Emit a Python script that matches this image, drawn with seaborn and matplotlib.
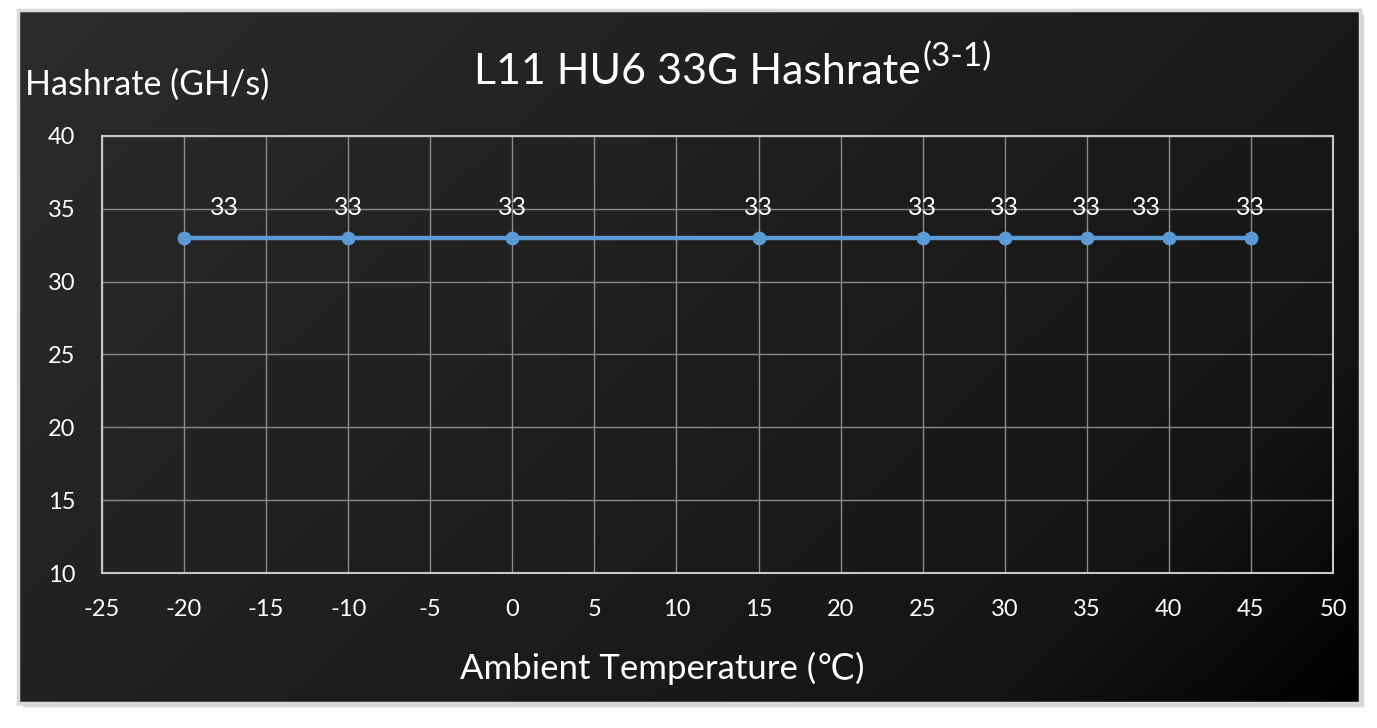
import numpy as np
import pandas as pd
import matplotlib
matplotlib.use("Agg")
import matplotlib.pyplot as plt
from matplotlib.patches import Rectangle
import seaborn as sns

# data
temps = [-20, -10, 0, 15, 25, 30, 35, 40, 45]
hashrate = [33, 33, 33, 33, 33, 33, 33, 33, 33]
label_dx = [40, 0, 0, 0, 0, 0, 0, -22, 0]   # pixel nudges of the "33" labels
x_ticks = list(range(-25, 55, 5))
y_ticks = list(range(10, 45, 5))

df = pd.DataFrame({"temp": temps, "rate": hashrate})

sns.set_style("dark")
plt.rcParams["font.family"] = ["Lato", "DejaVu Sans"]
plt.rcParams["axes.unicode_minus"] = False

W, H = 1377, 728
fig = plt.figure(figsize=(W / 100, H / 100), dpi=100)
fig.patch.set_facecolor("white")

# panel with shadow
px0, py0, px1, py1 = 18, 10, 1360, 703
for i, a in enumerate([0.10, 0.08, 0.06, 0.04, 0.02]):
    off = i + 2
    fig.patches.append(Rectangle(((px0 + off) / W, 1 - (py1 + off) / H),
                                 (px1 - px0) / W, (py1 - py0) / H,
                                 transform=fig.transFigure, facecolor="black",
                                 alpha=a, edgecolor="none", zorder=0))
bg = fig.add_axes([px0 / W, 1 - py1 / H, (px1 - px0) / W, (py1 - py0) / H], zorder=1)
nx = np.linspace(0, 1, 400)
ny = np.linspace(0, 1, 200)
gx, gy = np.meshgrid(nx, ny)
v = gx * 0.65 + gy * 0.35
g = np.where(v < 0.82, 0.17 - 0.09 * v / 0.82, 0.08 * np.clip((1.0 - v) / 0.18, 0, 1))
bg.imshow(np.dstack([g, g, g]), aspect="auto", extent=[0, 1, 1, 0], interpolation="bilinear")
bg.set_xticks([]); bg.set_yticks([])
for s in bg.spines.values():
    s.set_edgecolor("#d9d9d9")
    s.set_linewidth(2.5)

# main axes
ax = fig.add_axes([102 / W, 1 - 573 / H, (1333 - 102) / W, (573 - 136) / H], zorder=2)
ax.set_facecolor("none")
sns.lineplot(data=df, x="temp", y="rate", ax=ax, color="#5b9bd5", linewidth=3.2,
             marker="o", markersize=10, markeredgewidth=0, zorder=3)
ax.set_xlim(-25, 50)
ax.set_ylim(10, 40)
ax.set_xticks(x_ticks)
ax.set_yticks(y_ticks)
ax.grid(True, color="#8a8a8a", linewidth=1.0)
for s in ax.spines.values():
    s.set_visible(True)
    s.set_edgecolor("#c8c8c8")
    s.set_linewidth(1.5)
ax.tick_params(axis="both", length=0, labelsize=17, labelcolor="white")
ax.tick_params(axis="x", pad=19)
ax.tick_params(axis="y", pad=19)
ax.set_xlabel("")
ax.set_ylabel("")

for t, r, dx in zip(temps, hashrate, label_dx):
    ax.annotate(str(r), (t, r), xytext=(dx * 0.72, 22), textcoords="offset points",
                ha="center", va="center", color="white", fontsize=18)

# titles and axis labels
fig.text(25 / W, 1 - 85 / H, "Hashrate (GH/s)", color="white", fontsize=24.5,
         ha="left", va="center")
fig.text(662 / W, 1 - 668 / H, "Ambient Temperature (\u2103)", color="white", fontsize=25,
         ha="center", va="center", family=["Lato", "DejaVu Sans"])
title = fig.text(474 / W, 1 - 72 / H, "L11 HU6 33G Hashrate", color="white",
                 fontsize=31, ha="left", va="center")
fig.canvas.draw()
bb = title.get_window_extent()
fig.text(bb.x1 / W + 0.001, 1 - 57 / H, "(3-1)", color="white", fontsize=24,
         ha="left", va="center")

fig.savefig("out.png", dpi=100, facecolor="white")
